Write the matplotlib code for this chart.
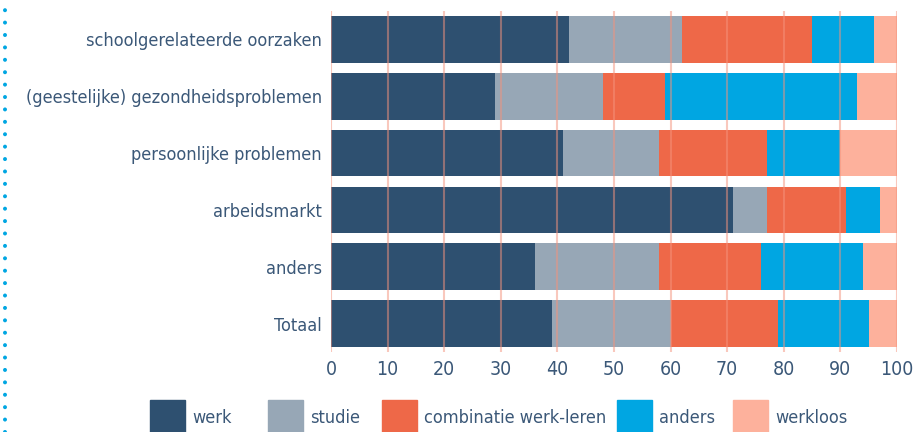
import numpy as np
import matplotlib.pyplot as plt
from matplotlib.lines import Line2D
from matplotlib.patches import Rectangle

plt.rcParams['font.family'] = ['DejaVu Sans']
plt.rcParams['font.stretch'] = 'condensed'

categories = [
    "schoolgerelateerde oorzaken",
    "(geestelijke) gezondheidsproblemen",
    "persoonlijke problemen",
    "arbeidsmarkt",
    "anders",
    "Totaal",
]
series = ["werk", "studie", "combinatie werk-leren", "anders", "werkloos"]
werk = [42, 29, 41, 71, 36, 39]
studie = [20, 19, 17, 6, 22, 21]
combinatie = [23, 11, 19, 14, 18, 19]
anders = [11, 34, 13, 6, 18, 16]
werkloos = [4, 7, 10, 3, 6, 5]
colors = ["#2e5070", "#97a7b6", "#ee6848", "#00a6e2", "#fdb19c"]
text_col = "#3b5878"

fig = plt.figure(figsize=(9.16, 4.32), dpi=100)
# axes in pixel terms: x 331..897, y 11..352 (from top)
ax = fig.add_axes((331 / 916, 1 - 352 / 432, (897 - 331) / 916, (352 - 11) / 432))

y = np.arange(len(categories))
left = np.zeros(len(categories))
for name, vals, c in zip(series, [werk, studie, combinatie, anders, werkloos], colors):
    ax.barh(y, vals, left=left, height=0.82, color=c, zorder=1)
    left += np.array(vals)

# grid lines sit on top of the bars
for gx in range(0, 101, 10):
    ax.axvline(gx, color="#f4927c", alpha=0.5, lw=1.5, zorder=3)

ax.set_xlim(0, 100)
ax.set_ylim(len(categories) - 0.5, -0.5)
ax.set_xticks(range(0, 101, 10))
ax.set_yticks(y)
ax.set_yticklabels(categories)
ax.tick_params(axis="both", length=0, labelcolor=text_col)
ax.tick_params(axis="y", pad=6.5, labelsize=13)
ax.tick_params(axis="x", pad=6, labelsize=14)
for s in ax.spines.values():
    s.set_visible(False)

# dotted border line on the left
fig.add_artist(Line2D([5 / 916, 5 / 916], [0, 1], transform=fig.transFigure,
                      color="#00a6e2", lw=2.9, linestyle=(0, (0.01, 3.07)),
                      dash_capstyle="round"))

# legend drawn by hand along the bottom edge
sq_x = [150, 268, 382, 617, 733]
for name, c, px in zip(series, colors, sq_x):
    fig.add_artist(Rectangle((px / 916, 0), 35 / 916, 32 / 432,
                             transform=fig.transFigure, color=c))
    fig.text((px + 42) / 916, 14 / 432, name, fontsize=13, color=text_col,
             va="center", ha="left")

fig.savefig("out.png", dpi=100)
